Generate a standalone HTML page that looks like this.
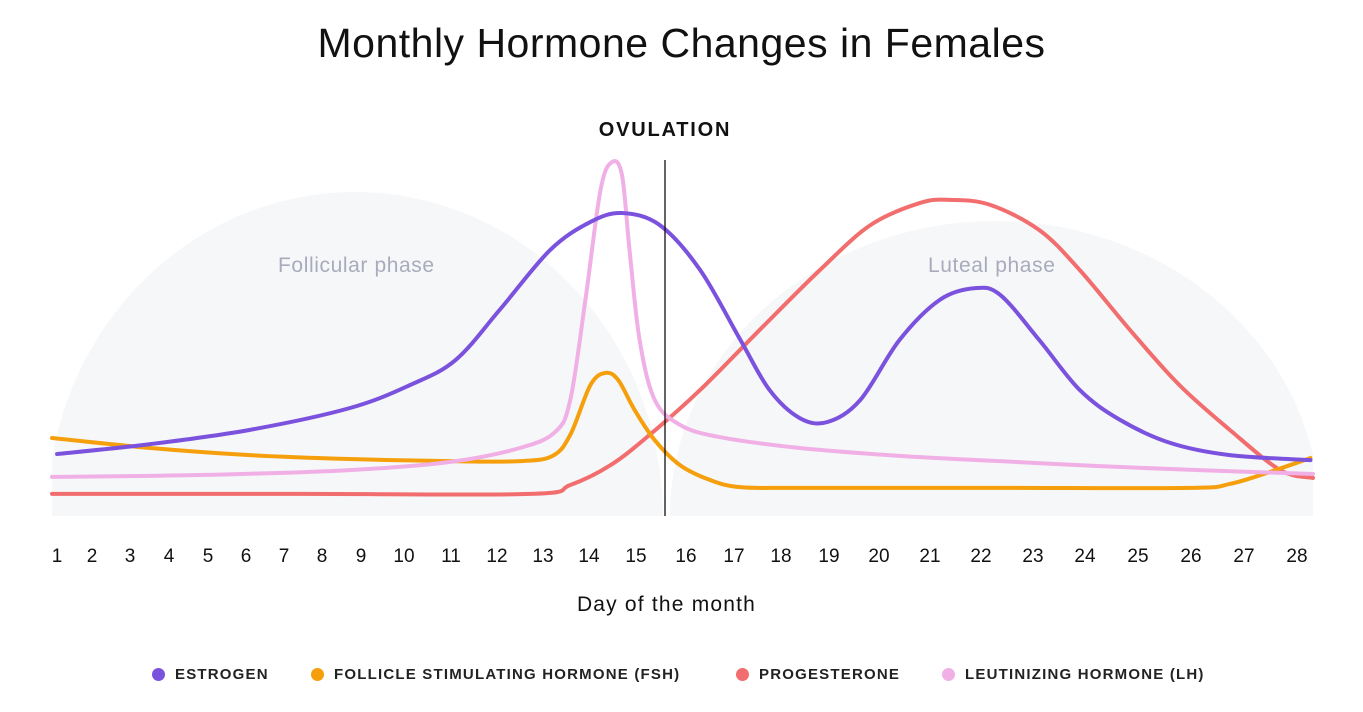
<!DOCTYPE html>
<html><head><meta charset="utf-8"><style>
html,body{margin:0;background:#fff;font-family:"Liberation Sans",sans-serif;width:1363px;height:712px;overflow:hidden}
#wrap{position:relative;width:1363px;height:712px;overflow:hidden}
.t{position:absolute;white-space:nowrap}
.tick{position:absolute;top:546px;font-size:19px;color:#111;transform:translateX(-50%)}
.leg{position:absolute;top:666px;font-size:15px;letter-spacing:1.2px;font-weight:bold;color:#222;display:flex;align-items:center}
.dot{width:13px;height:13px;border-radius:50%;margin-right:10px;display:inline-block}
</style></head><body>
<div id="wrap">
<div class="t" style="left:0;width:1363px;text-align:center;top:20px;font-size:41px;letter-spacing:0.5px;color:#111">Monthly Hormone Changes in Females</div>
<svg id="plot" width="1363" height="712" style="position:absolute;left:0;top:0;display:block"></svg>
<div class="t" style="left:565px;width:200px;text-align:center;top:119px;font-size:20px;letter-spacing:1.8px;font-weight:bold;color:#111">OVULATION</div>
<div class="t" style="left:278px;top:254px;font-size:21px;letter-spacing:0.6px;color:#a9abbd">Follicular phase</div>
<div class="t" style="left:928px;top:254px;font-size:21px;letter-spacing:0.6px;color:#a9abbd">Luteal phase</div>
<div id="ticks"></div>
<div class="t" style="left:0;width:1333px;text-align:center;top:593px;font-size:21px;letter-spacing:1.2px;color:#111">Day of the month</div>
<div class="leg" style="left:152px"><span class="dot" style="background:#7b52de"></span>ESTROGEN</div>
<div class="leg" style="left:311px"><span class="dot" style="background:#f59f0d"></span>FOLLICLE STIMULATING HORMONE (FSH)</div>
<div class="leg" style="left:736px"><span class="dot" style="background:#f26d6d"></span>PROGESTERONE</div>
<div class="leg" style="left:942px"><span class="dot" style="background:#f0b0e6"></span>LEUTINIZING HORMONE (LH)</div>
</div>
<script>
const dayLabels=["1","2","3","4","5","6","7","8","9","10","11","12","13","14","15","16","17","18","19","20","21","22","23","24","25","26","27","28"];
const estrogenT=[0.4,7.8,15.7,23.6,28.4,32.0,35.5,39.5,42.7,45.2,48.2,51.4,54.6,56.9,59.3,61.5,64.1,67.2,70.4,73.2,75.2,78.3,81.5,84.7,88.7,93.4,99.8];
const estrogenV=[17.4,20.2,24.2,30.3,36.8,43.8,57.9,74.7,82.6,85.1,81.7,69.1,49.4,35.4,27.5,26.4,32.6,49.4,60.7,64.0,62.1,49.4,35.4,27.0,20.5,17.1,15.7];
const fshT=[0,7.8,15.7,23.6,31.6,37.1,39.7,41.1,42.7,43.9,44.9,46.2,47.8,49.8,52.2,54.6,59.3,75.2,90.2,93.4,96.6,99.8];
const fshV=[21.9,19.1,17.1,16.0,15.4,15.4,16.9,22.8,36.8,40.2,38.2,29.8,21.3,14.3,10.1,8.1,7.9,7.9,7.9,9.0,12.4,16.3];
const progT=[0,19.7,37.9,41.1,44.3,47.4,51.4,56.1,60.9,64.9,68.8,71.2,74.4,78.3,81.5,85.5,89.4,93.4,97.4,100];
const progV=[6.2,6.2,6.2,8.7,14.3,22.8,35.4,52.2,69.1,81.7,87.9,88.8,87.4,80.3,69.1,52.2,36.8,24.2,12.9,10.7];
const lhT=[0,11.7,23.6,31.6,37.1,39.9,41.1,42.3,43.5,44.4,45.2,45.8,46.6,47.8,49.8,52.9,59.3,67.2,75.2,83.1,91.0,100];
const lhV=[11.0,11.5,12.9,15.2,19.1,23.6,32.6,60.7,91.6,99.4,95.8,74.7,49.4,32.6,25.6,22.2,19.1,16.9,15.4,14.0,12.9,11.8];
const tickLeft=[57,92,130,169,208,246,284,322,361,404,451,497,543,589,636,686,734,781,829,879,930,981,1033,1085,1138,1191,1244,1297];
const X=t=>52+t*12.61, Y=v=>516-v*3.56;
const NS="http://www.w3.org/2000/svg", svg=document.getElementById('plot');
function el(parent,tag,attrs){const e=document.createElementNS(NS,tag);for(const k in attrs)e.setAttribute(k,attrs[k]);parent.appendChild(e);return e;}
const defs=el(svg,'defs',{});
const cp=el(defs,'clipPath',{id:'cb'});
el(cp,'rect',{x:52,y:0,width:1261,height:516});
const g=el(svg,'g',{'clip-path':'url(#cb)'});
const e1=el(g,'ellipse',{cx:355,cy:516,rx:308,ry:324,fill:'#f6f7f9'});


const e2=el(g,'ellipse',{cx:995,cy:516,rx:325,ry:295,fill:'#f6f7f9'});


function path(T,V){const p=T.map((t,i)=>[X(t),Y(V[i])]);let d=`M${p[0][0]},${p[0][1]}`;
for(let i=0;i<p.length-1;i++){const a=p[Math.max(0,i-1)],b=p[i],c=p[i+1],e=p[Math.min(p.length-1,i+2)];
d+=` C${b[0]+(c[0]-a[0])/6},${b[1]+(c[1]-a[1])/6} ${c[0]-(e[0]-b[0])/6},${c[1]-(e[1]-b[1])/6} ${c[0]},${c[1]}`;}return d;}
const series=[[progT,progV,'#f26d6d','progesterone-line'],[fshT,fshV,'#f59f0d','fsh-line'],[lhT,lhV,'#f0b0e6','lh-line'],[estrogenT,estrogenV,'#7b52de','estrogen-line']];
series.forEach(s=>{const p=el(svg,'path',{d:path(s[0],s[1]),fill:'none',stroke:s[2],'stroke-width':4,'stroke-linecap':'round','stroke-linejoin':'round'});

});
const vl=el(svg,'line',{x1:665,x2:665,y1:160,y2:516,stroke:'#111','stroke-width':1.3});


const tk=document.getElementById('ticks');
dayLabels.forEach((l,i)=>{const d=document.createElement('div');d.className='tick';d.style.left=tickLeft[i]+'px';d.textContent=l;


tk.appendChild(d);});
</script>
</body></html>
